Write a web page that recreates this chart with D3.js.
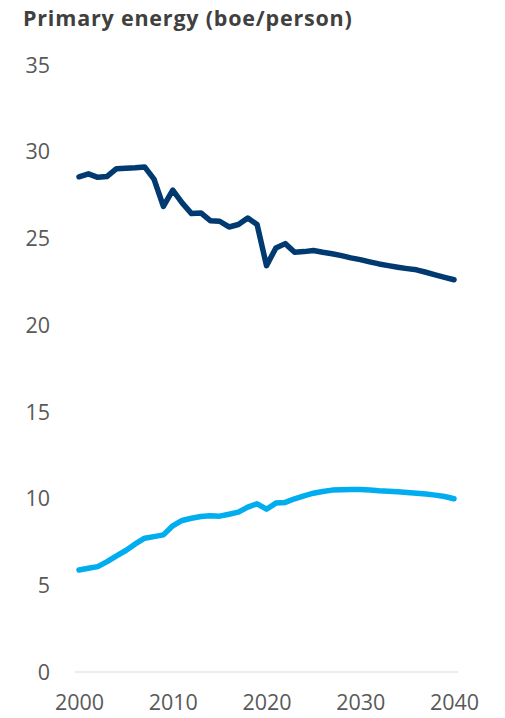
<!DOCTYPE html>
<html><head><meta charset="utf-8">
<script src="https://cdn.jsdelivr.net/npm/d3@7"></script>
<style>body{margin:0;background:#fff;} svg{display:block;}</style>
</head><body>
<svg id="c" width="505" height="718"></svg>
<script>
const years = d3.range(2000, 2041);
const darkSeries = [28.53,28.7,28.5,28.55,29.0,29.02,29.05,29.1,28.4,26.83,27.76,27.03,26.41,26.45,26.0,25.97,25.64,25.78,26.16,25.78,23.41,24.43,24.68,24.18,24.22,24.28,24.18,24.1,23.99,23.86,23.76,23.63,23.51,23.41,23.32,23.24,23.17,23.03,22.88,22.74,22.6];
const lightSeries = [5.88,5.98,6.07,6.36,6.69,7.0,7.38,7.71,7.8,7.9,8.42,8.73,8.86,8.96,9.0,8.98,9.09,9.21,9.5,9.69,9.38,9.73,9.77,9.98,10.15,10.3,10.4,10.48,10.5,10.51,10.51,10.48,10.44,10.42,10.38,10.34,10.3,10.25,10.19,10.11,9.98];
const yTicks = [0,5,10,15,20,25,30,35];
const xTicks = [2000,2010,2020,2030,2040];
const title = "Primary energy (boe/person)";

const svg = d3.select("#c");
const x = d3.scaleLinear().domain([2000,2040]).range([79,454]);
const y = d3.scaleLinear().domain([0,35]).range([672,64.5]);
const font = "'Open Sans', 'Noto Sans', sans-serif";

svg.append("text").attr("x",23).attr("y",26).text(title)
  .attr("font-family",font).attr("font-weight","bold").attr("font-size",21.5)
  .attr("letter-spacing",0.8).attr("fill","#404040");

// baseline
svg.append("line").attr("x1",75).attr("x2",458).attr("y1",y(0)).attr("y2",y(0))
  .attr("stroke","#d9d9d9").attr("stroke-width",1.2);

const yAxis = d3.axisLeft(y).tickValues(yTicks).tickSize(0).tickPadding(0);
const gy = svg.append("g").attr("transform","translate(50,0)").call(yAxis);
gy.select(".domain").remove();
gy.selectAll("text").attr("font-family",font).attr("font-size",21.5).attr("fill","#595959").attr("dy","0.35em");

const xAxis = d3.axisBottom(x).tickValues(xTicks).tickFormat(d3.format("d")).tickSize(0).tickPadding(0);
const gx = svg.append("g").attr("transform","translate(0,702)").call(xAxis);
gx.select(".domain").remove();
gx.selectAll("text").attr("font-family",font).attr("font-size",21.5).attr("fill","#595959").attr("dy","0.35em");

const line = d3.line().x((d,i)=>x(years[i])).y(d=>y(d));
svg.append("path").datum(lightSeries).attr("d",line).attr("fill","none")
  .attr("stroke","#00AEEF").attr("stroke-width",5.5).attr("stroke-linejoin","round").attr("stroke-linecap","round");
svg.append("path").datum(darkSeries).attr("d",line).attr("fill","none")
  .attr("stroke","#003A70").attr("stroke-width",5.5).attr("stroke-linejoin","round").attr("stroke-linecap","round");
</script>
</body></html>
